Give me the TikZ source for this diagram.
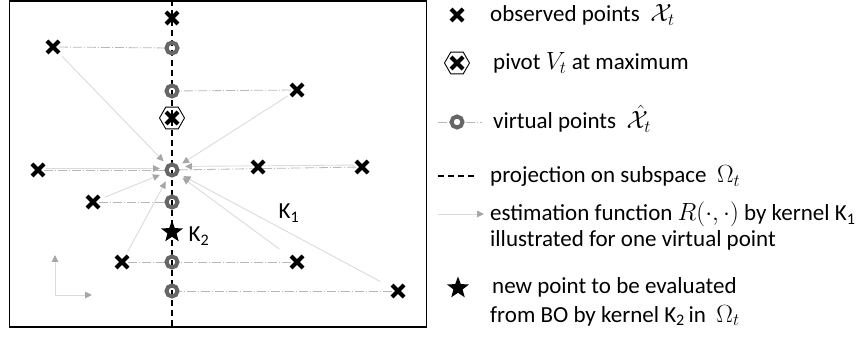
\documentclass[tikz,border=0pt]{standalone}
\usepackage{fontspec}
\setmainfont{Carlito}
\usetikzlibrary{arrows.meta,shapes.geometric,shapes.misc,backgrounds}
\newcommand\lblfont{\fontsize{23}{27}\selectfont}

\begin{document}
\begin{tikzpicture}[x=1pt,y=-1pt,
  every node/.style={font=\lblfont},
  obs/.style={cross out, draw=black, line width=4pt, minimum size=8pt, inner sep=0pt},
  virt/.style={circle, draw=black!60, line width=4pt, minimum size=11pt, inner sep=0pt},
  pivotbox/.style={regular polygon, regular polygon sides=6, draw=black, line width=0.9pt, minimum size=25pt, inner sep=0pt},
  newpt/.style={star, star points=5, star point ratio=2.4, fill=black, minimum size=23pt, inner sep=0pt},
  proj/.style={black, line width=2pt, dash pattern=on 6pt off 4pt},
  dashdot/.style={black!28, line width=0.8pt, dash pattern=on 9pt off 2pt on 1pt off 2pt},
  est/.style={black!14, line width=0.9pt, -{Triangle[length=7pt,width=6.5pt,color=black!35]}},
  txt/.style={anchor=base west, inner sep=0pt},
]
\useasboundingbox (0,0) rectangle (865,339);

% frame
\draw[black, line width=1.2pt] (9.5,1) rectangle (426.5,327);

% subspace line ends
\coordinate (top) at (172,0);
\coordinate (bot) at (172,327);

% virtual points on the subspace
\node[virt] (v1) at (172,48) {};
\node[virt] (v2) at (172,91) {};
\node[virt] (v3) at (172,170) {};
\node[virt] (v4) at (172,202) {};
\node[virt] (v5) at (172,262) {};
\node[virt] (v6) at (172,291) {};

% observed points
\node[obs] (o0) at (172,18) {};
\node[obs] (o1) at (53,47) {};
\node[obs] (o2) at (297,90) {};
\node[obs] (o4) at (38,170) {};
\node[obs] (o5) at (258,167) {};
\node[obs] (o6) at (362,167) {};
\node[obs] (o7) at (93,202) {};
\node[obs] (o8) at (122,262) {};
\node[obs] (o9) at (297,262) {};
\node[obs] (o10) at (398,291) {};

% pivot
\node[pivotbox] (pv) at (172,118) {};
\node[obs] (po) at (172,118) {};

% new point
\node[newpt] (np) at (172,232) {};

% kernel labels
\node (k1) at (289,213) {K\textsubscript{1}};
\node (k2) at (199,236) {K\textsubscript{2}};

% small axes
\coordinate (ax0) at (55,295);
\coordinate (axy) at (55,255);
\coordinate (axx) at (92,295);

\begin{scope}[on background layer]
  % projections onto the subspace
  \draw[dashdot] (o1) -- (v1);
  \draw[dashdot] (o2) -- (v2);
  \draw[dashdot] (o4) -- (v3);
  \draw[dashdot] (o6) -- (v3);
  \draw[dashdot] (o7) -- (v4);
  \draw[dashdot] (o8) -- (v5);
  \draw[dashdot] (o9) -- (v5);
  \draw[dashdot] (o10) -- (v6);
  % estimation arrows towards one virtual point
  \draw[est, shorten <=13pt, shorten >=12pt] (o1.center) -- (v3.center);
  \draw[est, shorten <=11pt, shorten >=12pt] (o2.center) -- (v3.center);
  \draw[est, shorten <=8pt, shorten >=12pt] ([yshift=1.5pt]o4.center) -- ([yshift=1.5pt]v3.center);
  \draw[est, shorten <=8pt, shorten >=13pt] ([yshift=2pt]o6.center) -- ([yshift=3.5pt]v3.center);
  \draw[est, shorten <=13pt, shorten >=13pt] (o7.center) -- (v3.center);
  \draw[est, shorten <=12pt, shorten >=13pt] (o8.center) -- (v3.center);
  \draw[est, shorten <=22pt, shorten >=13pt] (o9.center) -- (v3.center);
  \draw[est, shorten <=20pt, shorten >=13pt] (o10.center) -- (v3.center);
  % subspace
  \draw[proj] (top) -- (bot);
  % axes
  \draw[black!14, line width=1pt, {Triangle[length=7pt,width=6.5pt,color=black!35]}-{Triangle[length=7pt,width=6.5pt,color=black!35]}] (axy) -- (ax0) -- (axx);
\end{scope}

% legend
\node[obs] (l1) at (457,15) {};
\node[txt] (t1) at (490,22) {observed points \ $\mathcal{X}_t$};

\node[pivotbox] (l2h) at (457,63) {};
\node[obs] (l2) at (457,63) {};
\node[txt] (t2) at (493,70) {pivot $V_t$ at maximum};

\coordinate (l3a) at (438,122);
\coordinate (l3b) at (482,122);
\draw[dashdot] (l3a) -- (l3b);
\node[virt, fill=white] (l3) at (457,122) {};
\node[txt] (t3) at (493,129) {virtual points \ $\hat{\mathcal{X}}_t$};

\coordinate (l4a) at (438,176);
\coordinate (l4b) at (477,176);
\draw[proj] (l4a) -- (l4b);
\node[txt] (t4) at (490,183) {projection on subspace \ $\Omega_t$};

\coordinate (l5a) at (438,214);
\coordinate (l5b) at (484,214);
\draw[est] (l5a) -- (l5b);
\node[txt] (t5) at (490,221) {estimation function $R(\cdot,\cdot)$ by kernel K\textsubscript{1}};
\node[txt] (t5b) at (490,247) {illustrated for one virtual point};

\node[newpt] (l6) at (458,288) {};
\node[txt] (t6) at (492,294) {new point to be evaluated};
\node[txt] (t6b) at (490,322) {from BO by kernel K\textsubscript{2}\,in \ $\Omega_t$};
\end{tikzpicture}
\end{document}
